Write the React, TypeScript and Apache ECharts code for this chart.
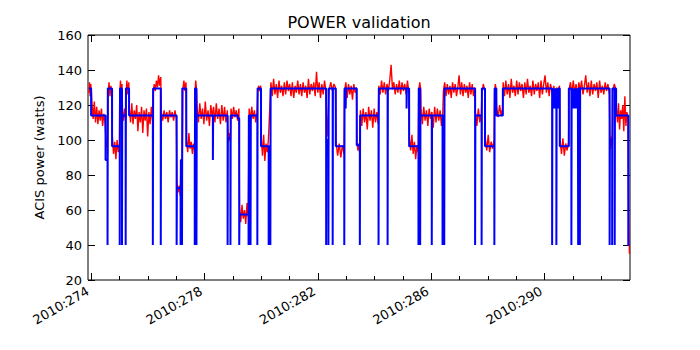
import React, { useEffect, useRef } from "react";
import * as echarts from "echarts";

// ---- Data (day of year 2010) ----
const chartTitle = "POWER validation";
const yAxisTitle = "ACIS power (watts)";
const majorDays = [274, 278, 282, 286, 290];
const minorDays = [275, 276, 277, 279, 280, 281, 283, 284, 285, 287, 288, 289, 291, 292];
const yTicks = [20, 40, 60, 80, 100, 120, 140, 160];

// Telemetry (red): segments of samples, each [start day, end day]
const telemetrySpans: [number, number][] = [
  [273.91, 274.0], [274.02, 274.48], [274.5, 274.57], [274.59, 274.72], [274.74, 274.99],
  [275.0, 275.08], [275.1, 275.21], [275.22, 275.32], [275.34, 276.16], [276.18, 276.45],
  [276.47, 277.0], [277.02, 277.14], [277.16, 277.21], [277.23, 277.34], [277.36, 277.65],
  [277.66, 277.71], [277.73, 278.8], [278.82, 278.91], [278.93, 279.21], [279.23, 279.54],
  [279.57, 279.85], [279.87, 279.98], [280.0, 280.25], [280.34, 282.28], [282.29, 282.39],
  [282.4, 282.62], [282.64, 282.92], [282.94, 283.36], [283.38, 283.47], [283.5, 284.13],
  [284.15, 285.21], [285.23, 285.54], [285.56, 285.63], [285.64, 286.41], [286.43, 287.54],
  [287.56, 287.77], [287.79, 287.89], [287.91, 288.22], [288.24, 288.29], [288.31, 288.52],
  [288.54, 290.26], [290.28, 290.53], [290.55, 290.85], [290.87, 292.29], [292.31, 292.4],
  [292.41, 292.52], [292.54, 292.95], [292.97, 293.0],
];
const telemetryPower: number[][] = [
  [127, 133, 125, 132, 128],
  [121, 112, 122, 110, 119, 109, 117, 111, 118, 108, 115, 110],
  [104, 96, 100, 92],
  [126, 133, 125, 131, 127],
  [102, 92, 99, 89, 100, 93, 98],
  [125, 134, 127, 132],
  [117, 111, 118, 112],
  [124, 134, 126, 133],
  [118, 110, 121, 109, 117, 112, 120, 105, 116, 110, 119, 104, 117, 111, 118, 102, 116, 109, 119, 111],
  [126, 132, 128, 134, 130, 137, 131, 136],
  [116, 111, 117, 112, 116, 110, 117, 113, 116, 111, 117, 112],
  [76, 70, 74, 68],
  [86, 78, 88],
  [129, 134, 128, 133],
  [100, 93, 104, 95, 99, 92, 98, 94],
  [128, 134, 129],
  [119, 110, 121, 112, 118, 109, 122, 111, 117, 108, 120, 113, 119, 110, 121, 112, 118, 109, 120, 111, 119, 110, 117],
  [106, 99, 104, 100],
  [118, 112, 119, 113, 117, 111, 118],
  [62, 53, 63, 55, 60, 52, 64, 56],
  [118, 111, 119, 112, 117, 110, 116],
  [127, 131, 128, 131],
  [101, 91, 103, 88, 98, 93, 100],
  [133, 125, 135, 126, 132, 124, 134, 127, 131, 125, 133, 126, 134, 128, 132, 125, 133, 124, 131, 127, 134, 126, 132, 125, 133, 127, 131, 124, 135, 126, 132, 128, 133, 125, 139, 127, 133, 124, 132, 126, 134, 128],
  [124, 102, 110, 128],
  [129, 133, 128, 132, 130],
  [99, 91, 98, 90, 97, 92],
  [128, 133, 124, 132, 126, 131, 123, 132, 127, 130],
  [99, 94, 98, 93],
  [117, 108, 118, 110, 116, 106, 119, 111, 117, 107, 118, 110, 116, 109],
  [131, 126, 134, 127, 133, 126, 132, 128, 134, 143, 129, 133, 126, 132, 127, 134, 126, 133, 128, 132, 126, 134, 127],
  [101, 94, 103, 92, 99, 89, 97, 93],
  [128, 133, 129],
  [118, 109, 119, 111, 117, 108, 118, 112, 116, 107, 119, 110, 118, 111, 117, 108, 116],
  [128, 133, 125, 132, 126, 131, 124, 133, 127, 132, 125, 130, 137, 126, 133, 125, 132, 127, 131, 124, 133, 126, 132, 125, 130],
  [116, 108, 118, 110, 115],
  [127, 132, 128],
  [101, 94, 103, 93, 99, 95, 100],
  [128, 132, 129],
  [119, 113, 120, 114, 118],
  [133, 125, 134, 126, 132, 124, 135, 127, 131, 125, 134, 126, 133, 128, 132, 124, 133, 126, 135, 127, 131, 125, 134, 126, 132, 128, 133, 124, 134, 126, 132, 137, 127, 133, 125, 132, 128],
  [126, 131, 124, 130, 127, 131],
  [100, 92, 101, 91, 98, 94, 99],
  [129, 133, 126, 134, 127, 132, 125, 133, 128, 134, 126, 131, 137, 127, 133, 125, 134, 126, 132, 128, 133, 124, 134, 127, 131, 126, 133, 128, 132, 126],
  [104, 95, 102, 97],
  [128, 132, 129],
  [118, 110, 121, 106, 117, 112, 120, 105, 125, 108, 116, 111],
  [60, 35],
];

// Model (blue): step breakpoints [day, watts]
const modelSteps: [number, number][] = [
  [273.91, 129.5], [273.99, 129.5], [273.99, 114], [274.5, 114], [274.5, 88.6], [274.57, 88.6], [274.57, 40],
  [274.58, 40], [274.58, 129.5], [274.73, 129.5], [274.73, 96.5], [275.0, 96.5], [275.0, 40], [275.01, 40],
  [275.01, 129.5], [275.08, 129.5], [275.08, 40], [275.09, 40], [275.09, 114], [275.21, 114], [275.21, 40],
  [275.22, 40], [275.22, 129.5], [275.33, 129.5], [275.33, 114], [276.17, 114], [276.17, 40], [276.18, 40],
  [276.18, 129.5], [276.45, 129.5], [276.45, 40], [276.46, 40], [276.46, 114], [277.01, 114], [277.01, 40],
  [277.02, 40], [277.02, 72.6], [277.15, 72.6], [277.15, 40], [277.16, 40], [277.16, 88.6], [277.2, 88.6],
  [277.2, 40], [277.21, 40], [277.21, 129.5], [277.35, 129.5], [277.35, 96.5], [277.65, 96.5], [277.65, 40],
  [277.66, 40], [277.66, 129.5], [277.71, 129.5], [277.71, 40], [277.72, 40], [277.72, 114], [278.29, 114],
  [278.29, 88.6], [278.3, 88.6], [278.3, 114], [278.81, 114], [278.81, 40], [278.82, 40], [278.82, 101],
  [278.91, 101], [278.91, 40], [278.92, 40], [278.92, 114], [279.17, 114], [279.17, 112.5], [279.22, 112.5],
  [279.22, 40], [279.23, 40], [279.23, 57.5], [279.55, 57.5], [279.55, 40], [279.56, 40], [279.56, 114],
  [279.62, 114], [279.62, 40], [279.63, 40], [279.63, 114], [279.86, 114], [279.86, 40], [279.87, 40],
  [279.87, 129.5], [279.99, 129.5], [279.99, 96.5], [280.26, 96.5], [280.26, 40], [280.27, 40], [280.27, 96.5],
  [280.32, 96.5], [280.32, 40], [280.33, 40], [280.33, 129.5], [282.29, 129.5], [282.29, 40], [282.3, 40],
  [282.3, 100], [282.37, 100], [282.37, 40], [282.38, 40], [282.38, 129.5], [282.52, 129.5], [282.52, 40],
  [282.53, 40], [282.53, 129.5], [282.63, 129.5], [282.63, 96.5], [282.93, 96.5], [282.93, 40], [282.94, 40],
  [282.94, 129.5], [282.98, 129.5], [282.98, 118], [282.99, 118], [282.99, 129.5], [283.37, 129.5], [283.37, 97],
  [283.48, 97], [283.48, 40], [283.49, 40], [283.49, 114], [284.14, 114], [284.14, 40], [284.15, 40],
  [284.15, 129.5], [284.46, 129.5], [284.46, 40], [284.47, 40], [284.47, 129.5], [285.13, 129.5], [285.13, 118],
  [285.14, 118], [285.14, 129.5], [285.22, 129.5], [285.22, 96.5], [285.55, 96.5], [285.55, 40], [285.56, 40],
  [285.56, 129.5], [285.61, 129.5], [285.61, 40], [285.62, 40], [285.62, 114], [286.02, 114], [286.02, 40],
  [286.03, 40], [286.03, 114], [286.4, 114], [286.4, 40], [286.41, 40], [286.41, 114], [286.46, 114],
  [286.46, 40], [286.47, 40], [286.47, 129.5], [287.55, 129.5], [287.55, 40], [287.56, 40], [287.56, 114],
  [287.78, 114], [287.78, 40], [287.79, 40], [287.79, 129.5], [287.9, 129.5], [287.9, 96.5], [288.23, 96.5],
  [288.23, 40], [288.24, 40], [288.24, 129.5], [288.3, 129.5], [288.3, 114], [288.53, 114], [288.53, 129.5],
  [290.27, 129.5], [290.27, 40], [290.28, 40], [290.28, 129.5], [290.29, 118], [290.3, 129.5], [290.31, 118],
  [290.32, 129.5], [290.33, 118], [290.34, 129.5], [290.35, 118], [290.36, 129.5], [290.37, 118], [290.38, 129.5],
  [290.39, 118], [290.4, 129.5], [290.41, 118], [290.42, 129.5], [290.42, 40], [290.43, 40], [290.43, 129.5],
  [290.44, 118], [290.45, 129.5], [290.46, 118], [290.47, 129.5], [290.48, 118], [290.49, 129.5], [290.54, 129.5],
  [290.54, 96.5], [290.86, 96.5], [290.86, 129.5], [290.95, 129.5], [290.95, 40], [290.96, 40], [290.96, 129.5],
  [290.97, 118], [290.98, 129.5], [290.99, 118], [291.0, 129.5], [291.01, 118], [291.02, 129.5], [291.03, 118],
  [291.04, 129.5], [291.05, 118], [291.06, 129.5], [291.07, 118], [291.08, 129.5], [291.09, 118], [291.1, 129.5],
  [291.11, 118], [291.12, 129.5], [291.13, 118], [291.14, 129.5], [291.15, 118], [291.16, 129.5], [291.17, 118],
  [291.18, 129.5], [291.19, 129.5], [291.19, 40], [291.2, 40], [291.2, 129.5], [291.25, 129.5], [291.25, 40],
  [291.26, 40], [291.26, 129.5], [292.3, 129.5], [292.3, 40], [292.31, 40], [292.31, 100], [292.39, 100],
  [292.39, 40], [292.4, 40], [292.4, 129.5], [292.48, 129.5], [292.48, 40], [292.49, 40], [292.49, 129.5],
  [292.53, 129.5], [292.53, 114], [292.96, 114], [292.96, 40], [293.0, 40],
];

const X_MIN = 273.88;
const X_MAX = 293.02;
const FONT = "DejaVu Sans";

function buildTelemetry(): [number, number][] {
  const pts: [number, number][] = [];
  telemetrySpans.forEach(([t0, t1], i) => {
    const vals = telemetryPower[i];
    const n = vals.length;
    vals.forEach((v, k) => {
      const t = n > 1 ? t0 + ((t1 - t0) * k) / (n - 1) : t0;
      pts.push([t, v]);
    });
  });
  return pts;
}

export default function App() {
  const ref = useRef<HTMLDivElement>(null);
  useEffect(() => {
    if (!ref.current) return;
    const chart = echarts.init(ref.current, null, { renderer: "svg" });
    const tickLine = { color: "#000", width: 1 };
    const xBase = {
      type: "value" as const,
      min: X_MIN,
      max: X_MAX,
      gridIndex: 0,
      splitLine: { show: false },
      axisLine: { show: false },
    };
    const yBase = {
      type: "value" as const,
      min: 20,
      max: 160,
      interval: 20,
      splitLine: { show: false },
      axisLine: { show: false },
    };
    chart.setOption({
      animation: false,
      backgroundColor: "#fff",
      title: {
        text: chartTitle,
        left: 359,
        top: 14,
        padding: 0,
        textAlign: "center",
        textStyle: { fontFamily: FONT, fontSize: 16, fontWeight: "normal", color: "#000" },
      },
      grid: {
        left: 88,
        top: 35,
        width: 542,
        height: 245,
        show: true,
        borderColor: "#000",
        borderWidth: 1,
        backgroundColor: "transparent",
      },
      xAxis: [
        {
          ...xBase,
          position: "bottom",
          axisTick: { show: true, inside: true, length: 7, customValues: majorDays, lineStyle: tickLine },
          axisLabel: {
            show: true,
            customValues: majorDays,
            rotate: 30,
            margin: 8,
            padding: [0, 4, 0, 0],
            fontFamily: FONT,
            fontSize: 13,
            color: "#000",
            formatter: (v: number) => "2010:" + Math.round(v),
          },
        },
        {
          ...xBase,
          position: "bottom",
          axisTick: { show: true, inside: true, length: 4, customValues: minorDays, lineStyle: tickLine },
          axisLabel: { show: false },
        },
        {
          ...xBase,
          position: "top",
          axisTick: { show: true, inside: true, length: 7, customValues: majorDays, lineStyle: tickLine },
          axisLabel: { show: false },
        },
        {
          ...xBase,
          position: "top",
          axisTick: { show: true, inside: true, length: 4, customValues: minorDays, lineStyle: tickLine },
          axisLabel: { show: false },
        },
      ],
      yAxis: [
        {
          ...yBase,
          position: "left",
          name: yAxisTitle,
          nameLocation: "middle",
          nameGap: 40,
          nameTextStyle: { fontFamily: FONT, fontSize: 13, color: "#000" },
          axisTick: { show: true, inside: true, length: 7, lineStyle: tickLine },
          axisLabel: {
            show: true,
            margin: 6,
            fontFamily: FONT,
            fontSize: 13,
            color: "#000",
            customValues: yTicks,
          },
        },
        {
          ...yBase,
          position: "right",
          axisTick: { show: true, inside: true, length: 7, lineStyle: tickLine },
          axisLabel: { show: false },
        },
      ],
      series: [
        {
          type: "line",
          name: "telemetry",
          xAxisIndex: 0,
          yAxisIndex: 0,
          data: buildTelemetry(),
          showSymbol: false,
          symbol: "none",
          silent: true,
          z: 2,
          lineStyle: { color: "#ff0000", width: 1.4 },
        },
        {
          type: "line",
          name: "model",
          xAxisIndex: 0,
          yAxisIndex: 0,
          data: modelSteps,
          showSymbol: false,
          symbol: "none",
          silent: true,
          z: 3,
          lineStyle: { color: "#0000ff", width: 2 },
        },
      ],
    });
    return () => chart.dispose();
  }, []);
  return (
    <div
      ref={ref}
      style={{ position: "fixed", left: 0, top: 0, width: 700, height: 350, background: "#fff" }}
    />
  );
}
